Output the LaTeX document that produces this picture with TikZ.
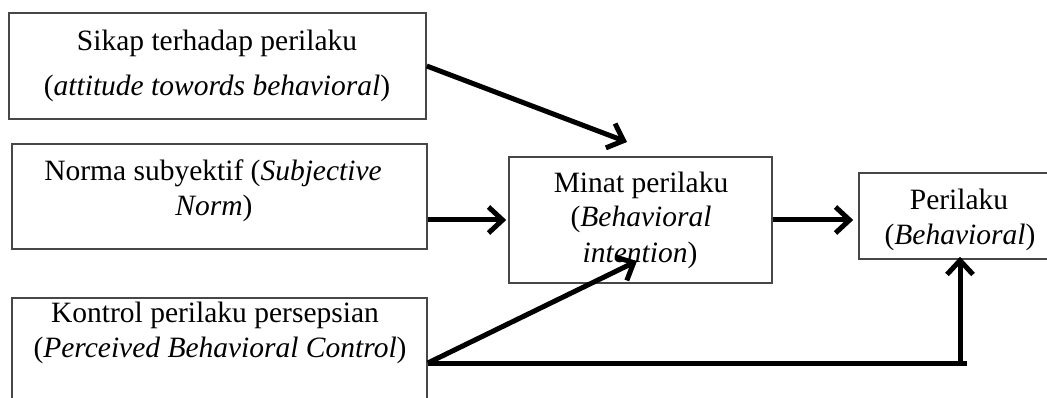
\documentclass[tikz,border=0pt]{standalone}
\usepackage{fontspec}
\setmainfont{Liberation Serif}
\usetikzlibrary{arrows.meta}
\begin{document}
\begin{tikzpicture}[x=1pt,y=-1pt,
  box/.style={draw=black!72, line width=1.6pt, inner sep=0pt, rectangle},
  txt/.style={inner sep=0pt, anchor=base, font=\fontsize{29.5}{35}\selectfont},
  conn/.style={line width=5pt, -{Straight Barb[length=14pt,width=26pt]}},
  plain/.style={line width=5pt}
]
\path[use as bounding box, fill=white] (0,0) rectangle (1047,398);

% boxes
\node[box, minimum width=417pt, minimum height=106pt] (sikap) at (217.5,66) {};
\node[box, minimum width=415pt, minimum height=105pt] (norma) at (219.5,196.5) {};
\node[box, minimum width=415pt, minimum height=130pt] (kontrol) at (219.5,363) {};
\node[box, minimum width=263pt, minimum height=126pt] (minat) at (640.5,220) {};
\node[box, minimum width=202pt, minimum height=86pt] (perilaku) at (960,216) {};

% texts
\node[txt] (s1) at (217,51) {Sikap terhadap perilaku};
\node[txt] (s2) at (217,96) {(\textit{attitude towords behavioral})};
\node[txt] (n1) at (213,181) {Norma subyektif (\textit{Subjective}};
\node[txt] (n2) at (214,216) {\textit{Norm})};
\node[txt] (k1) at (215,322) {Kontrol perilaku persepsian};
\node[txt] (k2) at (220,357) {(\textit{Perceived Behavioral Control})};
\node[txt] (m1) at (641,193) {Minat perilaku};
\node[txt] (m2) at (641,227) {(\textit{Behavioral}};
\node[txt] (m3) at (640,262) {\textit{intention})};
\node[txt] (p1) at (959,210) {Perilaku};
\node[txt] (p2) at (960,244) {(\textit{Behavioral})};

% free ends
\coordinate (stip) at (627,142);
\coordinate (ktip) at (637,261);
\coordinate (corner) at (967,363);

% connectors
\draw[conn] (sikap.east) -- (stip);
\draw[conn] (norma.east |- minat.west) -- ([xshift=-2pt]minat.west);
\draw[conn] (minat.east) -- ([xshift=-5pt]perilaku.west |- minat.east);
\draw[conn] (kontrol.east) -- (ktip);
\draw[plain] (kontrol.east) -- (corner);
\draw[conn] (perilaku.south |- kontrol.east) -- ([yshift=3pt]perilaku.south);
\end{tikzpicture}
\end{document}
